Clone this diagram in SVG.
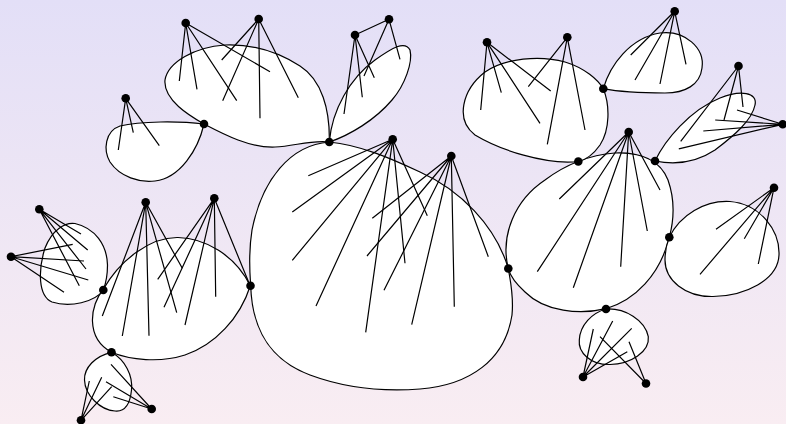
<svg xmlns="http://www.w3.org/2000/svg" width="786" height="424" viewBox="0 0 786 424">
<defs>
<linearGradient id="bg" x1="0" y1="0" x2="0" y2="1">
<stop offset="0" stop-color="#e3dff7"/>
<stop offset="1" stop-color="#f9edf2"/>
</linearGradient>
<style>
.blob{fill:#ffffff;stroke:#000;stroke-width:1.2}
.ln{stroke:#000;stroke-width:1.2;fill:none}
.dot{fill:#000}
</style>
</defs>
<rect width="786" height="424" fill="url(#bg)"/>
<g id="blob-big"><path class="blob" d="M329.3,142 C290,145 262,180 252,230 C248,255 250,275 250.7,285.7 C252,330 270,360 310,375 C345,388 380,392 420,389 C470,385 505,360 512,315 C514,295 510,280 508.3,268.3 C495,225 460,190 420,172 C390,158 360,145 329.3,142 Z"/></g>
<g id="blob-tl"><path class="blob" d="M329.3,142 C330,110 322,80 300,66 C275,50 250,44 225,45 C195,47 168,62 165,80 C163,100 190,116 204,124 C225,135 250,148 275,147 C295,146 310,140 329.3,142 Z"/></g>
<g id="blob-ls"><path class="blob" d="M204,124 C180,121 140,121 120,126 C105,131 103,150 110,162 C120,177 140,183 155,181 C180,178 198,150 204,124 Z"/></g>
<g id="blob-tr1"><path class="blob" d="M329.3,142 C332,110 350,78 375,60 C392,48 405,40 410,50 C413,62 405,85 392,100 C375,120 350,135 329.3,142 Z"/></g>
<g id="blob-cr"><path class="blob" d="M508.3,268.7 C500,235 515,200 545,180 C565,165 590,155 615,153 C640,152 660,160 668,180 C675,200 674,220 669.3,237.3 C660,275 635,300 606,308.7 C580,315 545,312 525,292 C515,283 510,275 508.3,268.7 Z"/></g>
<g id="blob-tc"><path class="blob" d="M578.3,161.5 C545,165 500,150 475,135 C455,120 462,90 485,72 C505,58 540,55 565,62 C585,68 598,80 603.3,88.7 C610,105 610,130 600,145 C593,155 585,160 578.3,161.5 Z"/></g>
<g id="blob-ur"><path class="blob" d="M603.3,88.7 C610,65 630,38 660,33 C685,30 705,48 702,68 C700,85 685,93 665,93 C645,93 620,92 603.3,88.7 Z"/></g>
<g id="blob-rl"><path class="blob" d="M655,161 C665,140 690,110 720,98 C740,90 758,92 755,105 C752,120 735,135 715,150 C700,160 680,166 655,161 Z"/></g>
<g id="blob-rb"><path class="blob" d="M669.3,237.3 C680,215 705,200 730,201.5 C760,204 780,230 779,255 C778,280 745,296 713,296.5 C685,297 665,280 665,260 C665,250 667,243 669.3,237.3 Z"/></g>
<g id="blob-br"><path class="blob" d="M606,309 C625,308 645,320 648.3,336.7 C650,352 630,364 610,364.5 C590,365 578,352 579.3,340 C580,325 592,313 606,309 Z"/></g>
<g id="blob-ml"><path class="blob" d="M250.3,285.7 C235,255 205,238 178,237.5 C150,237 120,260 103.3,289.3 C90,305 85,338 111.5,352.3 C130,360 160,363 185,355 C215,345 240,318 250.3,285.7 Z"/></g>
<g id="blob-lsm"><path class="blob" d="M103.3,290 C95,302 70,308 52,302 C38,296 38,270 45,248 C52,230 65,222 75,223.5 C95,228 107,245 107.5,265 C107.5,275 106,283 103.3,290 Z"/></g>
<g id="blob-bl"><path class="blob" d="M111.5,352.3 C125,360 133,375 131.5,390 C130,405 125,412 115,411 C100,410 85,395 84.5,380 C84,368 95,356 111.5,352.3 Z"/></g>
<g id="connectors" class="ln">
<path d="M185.7,23 L179.3,81 M185.7,23 L197,89.3 M185.7,23 L236.7,100.7 M185.7,23 L270,71.7"/>
<path d="M258.7,19 L221.7,60 M258.7,19 L222.7,100.7 M258.7,19 L260,118.3 M258.7,19 L298.3,97.7"/>
<path d="M125.7,98.3 L118.3,150 M125.7,98.3 L133.3,132.7 M125.7,98.3 L159.3,145.7"/>
<path d="M355,35 L389,19.3 M355,35 L344,114 M355,35 L362.3,97.3 M355,35 L374.3,77.7 M389,19.3 L364,76 M389,19.3 L400,59.3"/>
<path d="M392.7,139.3 L308.3,175.7 M392.7,139.3 L292.3,212 M392.7,139.3 L292.3,260.3 M392.7,139.3 L316,306 M392.7,139.3 L365.7,332.3 M392.7,139.3 L405,263.3 M392.7,139.3 L427.3,215.7"/>
<path d="M451.3,156 L372.3,218.3 M451.3,156 L367,256 M451.3,156 L384,290.3 M451.3,156 L411.7,324.7 M451.3,156 L454.3,306.7 M451.3,156 L488.3,256.7"/>
<path d="M487,42.3 L480.7,110 M487,42.3 L501.3,92.7 M487,42.3 L540,123.3 M487,42.3 L550.7,91"/>
<path d="M567.3,37.3 L528.3,86.7 M567.3,37.3 L547.3,144.3 M567.3,37.3 L585,130"/>
<path d="M674.7,11.3 L630.7,55 M674.7,11.3 L635,80 M674.7,11.3 L660,84 M674.7,11.3 L686,64.3"/>
<path d="M738.5,66 L680.7,141.3 M738.5,66 L724,120 M738.5,66 L743,107"/>
<path d="M782.7,124.3 L737,110 M782.7,124.3 L715.2,120 M782.7,124.3 L703.3,131 M782.7,124.3 L678.8,148.8"/>
<path d="M628.7,132 L559.3,199 M628.7,132 L537.3,271.7 M628.7,132 L573.3,287.7 M628.7,132 L620.7,266.7 M628.7,132 L647.3,231 M628.7,132 L660,190"/>
<path d="M774,187.7 L716,229.3 M774,187.7 L700,274.3 M774,187.7 L744.3,238.7 M774,187.7 L758.3,264"/>
<path d="M583,377 L593.3,329 M583,377 L612.7,321 M583,377 L631.7,328.3 M583,377 L627.3,351.7 M646,383.5 L600,336.7 M646,383.5 L629,341.7"/>
<path d="M39.3,209.3 L81,234 M39.3,209.3 L87.7,250 M39.3,209.3 L86,269 M39.3,209.3 L79.3,285.7"/>
<path d="M11,256.7 L72.7,244.3 M11,256.7 L84,261 M11,256.7 L88.3,280 M11,256.7 L64,292.3"/>
<path d="M145.7,202.3 L102.3,316 M145.7,202.3 L122.3,336 M145.7,202.3 L149,335.7 M145.7,202.3 L176.7,312.7 M145.7,202.3 L182.3,268.3"/>
<path d="M214.3,198.3 L157.7,279.3 M214.3,198.3 L164,307.3 M214.3,198.3 L185,325 M214.3,198.3 L215.7,296.7 M214.3,198.3 L249,283"/>
<path d="M81,420.3 L89.3,381 M81,420.3 L101.7,377.3 M81,420.3 L111.7,386.7"/>
<path d="M151.7,409 L111,364.3 M151.7,409 L106,381.7 M151.7,409 L113.3,396.7"/>
</g>
<g id="dots" class="dot">
<circle id="n-a" cx="185.7" cy="23" r="4.3"/>
<circle id="n-b" cx="258.7" cy="19" r="4.3"/>
<circle id="n-c" cx="125.7" cy="98.3" r="4.3"/>
<circle id="n-d" cx="355" cy="35" r="4.3"/>
<circle id="n-e" cx="389" cy="19.3" r="4.3"/>
<circle id="n-f" cx="392.7" cy="139.3" r="4.3"/>
<circle id="n-g" cx="451.3" cy="156" r="4.3"/>
<circle id="n-h" cx="487" cy="42.3" r="4.3"/>
<circle id="n-i" cx="567.3" cy="37.3" r="4.3"/>
<circle id="n-l" cx="674.7" cy="11.3" r="4.3"/>
<circle id="n-n" cx="738.5" cy="66" r="4.3"/>
<circle id="n-o" cx="782.7" cy="124.3" r="4.3"/>
<circle id="n-p" cx="628.7" cy="132" r="4.3"/>
<circle id="n-s" cx="774" cy="187.7" r="4.3"/>
<circle id="n-t" cx="583" cy="377" r="4.3"/>
<circle id="n-u" cx="646" cy="383.5" r="4.3"/>
<circle id="n-v" cx="39.3" cy="209.3" r="4.3"/>
<circle id="n-w" cx="11" cy="256.7" r="4.3"/>
<circle id="n-y" cx="145.7" cy="202.3" r="4.3"/>
<circle id="n-z" cx="214.3" cy="198.3" r="4.3"/>
<circle id="n-cc" cx="81" cy="420.3" r="4.3"/>
<circle id="n-dd" cx="151.7" cy="409" r="4.3"/>
<circle id="j-1" cx="329.3" cy="142" r="4.3"/>
<circle id="j-2" cx="204" cy="124" r="4.3"/>
<circle id="j-3" cx="250.5" cy="285.7" r="4.3"/>
<circle id="j-4" cx="508.3" cy="268.5" r="4.3"/>
<circle id="j-5" cx="578.3" cy="161.5" r="4.3"/>
<circle id="j-6" cx="603.3" cy="88.7" r="4.3"/>
<circle id="j-7" cx="655" cy="161" r="4.3"/>
<circle id="j-8" cx="669.3" cy="237.3" r="4.3"/>
<circle id="j-9" cx="606" cy="309" r="4.3"/>
<circle id="j-10" cx="103.3" cy="290" r="4.3"/>
<circle id="j-11" cx="111.5" cy="352.3" r="4.3"/>
</g>
</svg>
